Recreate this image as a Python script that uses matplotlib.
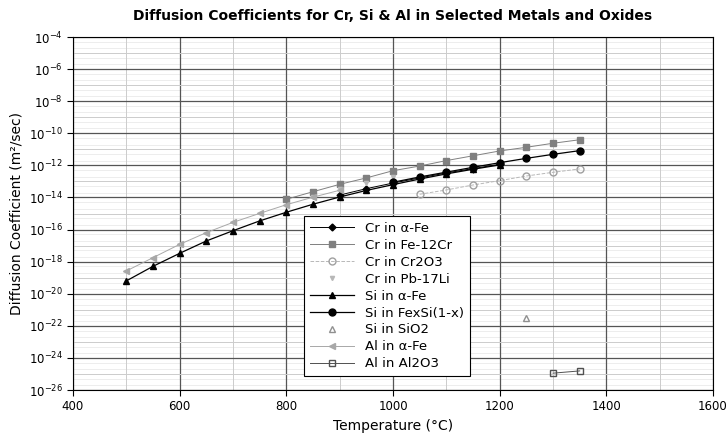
import matplotlib
matplotlib.use("Agg")
import matplotlib.pyplot as plt
from matplotlib.ticker import NullFormatter
import numpy as np

# temperatures (C) and log10 of diffusion coefficients (m^2/s)
T_cr_fe = [900, 950, 1000, 1050, 1100, 1150, 1200]
D_cr_fe = [-13.85, -13.45, -13.1, -12.78, -12.47, -12.2, -11.93]

T_cr_fe12 = [800, 850, 900, 950, 1000, 1050, 1100, 1150, 1200, 1250, 1300, 1350]
D_cr_fe12 = [-14.11, -13.64, -13.18, -12.78, -12.33, -12.04, -11.7, -11.4, -11.1, -10.87, -10.62, -10.4]

T_cr_cr2o3 = [1050, 1100, 1150, 1200, 1250, 1300, 1350]
D_cr_cr2o3 = [-13.8, -13.53, -13.22, -12.95, -12.66, -12.43, -12.22]

T_cr_pbli = [850, 900, 950, 1000]
D_cr_pbli = [-13.95, -13.5, -13.1, -12.75]

T_si_fe = [500, 550, 600, 650, 700, 750, 800, 850, 900, 950, 1000, 1050, 1100, 1150, 1200]
D_si_fe = [-19.2, -18.29, -17.48, -16.71, -16.07, -15.46, -14.92, -14.42, -13.97, -13.56, -13.2, -12.85, -12.53, -12.24, -11.97]

T_si_fesi = [1000, 1050, 1100, 1150, 1200, 1250, 1300, 1350]
D_si_fesi = [-13.05, -12.72, -12.42, -12.12, -11.83, -11.56, -11.31, -11.08]

T_si_sio2 = [1250]
D_si_sio2 = [-21.53]

T_al_fe = [500, 550, 600, 650, 700, 750, 800, 850, 900]
D_al_fe = [-18.58, -17.75, -16.92, -16.19, -15.55, -14.99, -14.45, -13.98, -13.55]

T_al_al2o3 = [1300, 1350]
D_al_al2o3 = [-24.95, -24.81]


def pw(vals):
    return 10.0 ** np.asarray(vals)


fig = plt.figure(figsize=(7.27, 4.36), dpi=100)
ax = fig.add_axes([0.1004, 0.1055, 0.8804, 0.8095])

ax.plot(T_cr_fe, pw(D_cr_fe), color="black", lw=0.7, marker="D", ms=3.5, label="Cr in \u03b1-Fe")
ax.plot(T_cr_fe12, pw(D_cr_fe12), color="#808080", lw=0.7, marker="s", ms=5, label="Cr in Fe-12Cr")
ax.plot(T_cr_cr2o3, pw(D_cr_cr2o3), color="#b8b8b8", lw=0.7, ls="--", marker="o", ms=5,
        mfc="none", mec="#a0a0a0", label="Cr in Cr2O3")
ax.plot(T_cr_pbli, pw(D_cr_pbli), color="#b8b8b8", lw=0, marker="v", ms=3, label="Cr in Pb-17Li")
ax.plot(T_si_fe, pw(D_si_fe), color="black", lw=0.9, marker="^", ms=5, label="Si in \u03b1-Fe")
ax.plot(T_si_fesi, pw(D_si_fesi), color="black", lw=0.9, marker="o", ms=5, label="Si in FexSi(1-x)")
ax.plot(T_si_sio2, pw(D_si_sio2), color="#909090", lw=0, marker="^", ms=5, mfc="none",
        label="Si in SiO2")
ax.plot(T_al_fe, pw(D_al_fe), color="#a8a8a8", lw=0.7, marker="<", ms=5, label="Al in \u03b1-Fe")
ax.plot(T_al_al2o3, pw(D_al_al2o3), color="#505050", lw=0.7, marker="s", ms=5, mfc="none",
        label="Al in Al2O3")

ax.set_yscale("log")
ax.set_xlim(400, 1600)
ax.set_ylim(1e-26, 1e-4)
ax.set_xticks(range(400, 1601, 200))
ax.set_xticks(range(400, 1601, 100), minor=True)
ax.set_yticks([10.0 ** e for e in range(-26, -3, 2)])
ax.set_yticks([10.0 ** e for e in range(-25, -4, 2)], minor=True)
ax.set_yticklabels(["$10^{%d}$" % e for e in range(-26, -3, 2)])
ax.yaxis.set_minor_formatter(NullFormatter())
ax.tick_params(axis="both", which="major", labelsize=8.5, length=4)
ax.tick_params(axis="both", which="minor", length=0)

ax.grid(True, which="major", color="#555555", lw=0.9)
ax.grid(True, which="minor", color="#cccccc", lw=0.7)
for e in range(-26, -4):
    for k in (2, 5):
        ax.axhline(k * 10.0 ** e, color="#e6e6e6", lw=0.5, zorder=0)
ax.set_axisbelow(True)

ax.set_xlabel("Temperature (\u00b0C)", fontsize=10)
ax.set_ylabel("Diffusion Coefficient (m\u00b2/sec)", fontsize=10)
ax.set_title("Diffusion Coefficients for Cr, Si & Al in Selected Metals and Oxides",
             fontsize=10, fontweight="bold", pad=12)

leg = ax.legend(loc="lower left", bbox_to_anchor=(0.35, 0.02), fontsize=9.5,
                fancybox=False, framealpha=1, edgecolor="black", handlelength=3.4,
                borderpad=0.45, labelspacing=0.3)
leg.get_frame().set_linewidth(0.8)

fig.savefig("out.png", dpi=100)
